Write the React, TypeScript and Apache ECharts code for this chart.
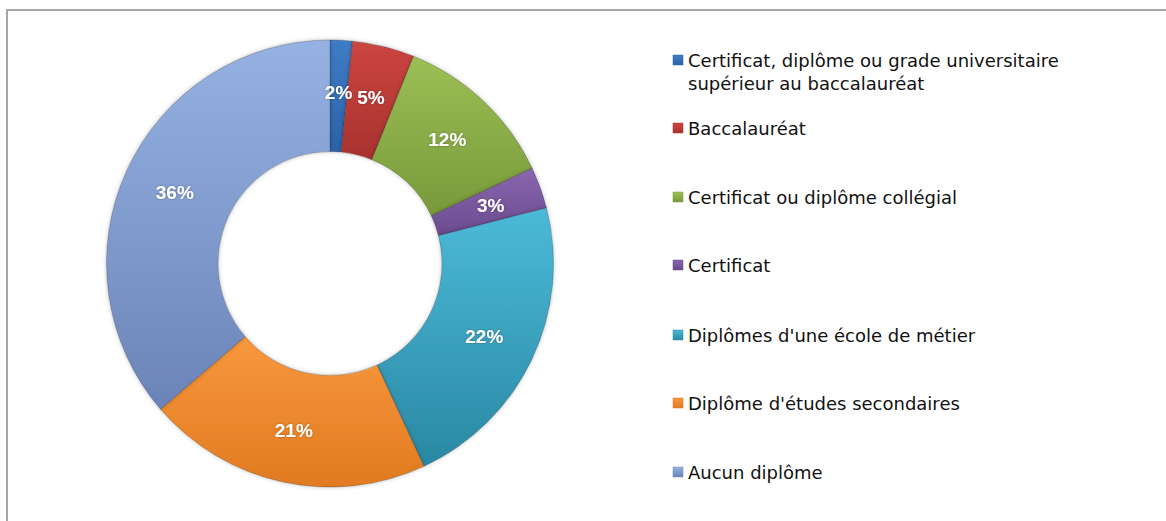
import React, { useEffect, useRef } from "react";
import * as echarts from "echarts";

const categories = [
  "Certificat, diplôme ou grade universitaire\nsupérieur au baccalauréat",
  "Baccalauréat",
  "Certificat ou diplôme collégial",
  "Certificat",
  "Diplômes d'une école de métier",
  "Diplôme d'études secondaires",
  "Aucun diplôme",
];
const values = [1.6, 4.5, 11.9, 3.0, 22.1, 20.6, 36.3];
const topColors = ["#3F7CC6", "#CC4540", "#9CBF55", "#8A66B0", "#4BBAD8", "#F9983E", "#95B2E2"];
const bottomColors = ["#2C62A8", "#A8322E", "#78993A", "#6A4B8E", "#2A88A3", "#E07A20", "#6B84B8"];
const legendTops = [60, 128, 197, 265, 335, 403, 472];

const grad = (i: number) =>
  new echarts.graphic.LinearGradient(0, 0, 0, 1, [
    { offset: 0, color: topColors[i] },
    { offset: 1, color: bottomColors[i] },
  ]);

export default function App() {
  const ref = useRef<HTMLDivElement>(null);
  useEffect(() => {
    if (!ref.current) return;
    const chart = echarts.init(ref.current, undefined, { renderer: "svg" });
    const legendFont = "DejaVu Sans";
    const graphics: any[] = [
      {
        type: "rect",
        shape: { x: 7, y: 10, width: 1170, height: 530 },
        style: { fill: "none", stroke: "#A6A6A6", lineWidth: 2 },
        silent: true,
      },
    ];
    categories.forEach((c, i) => {
      const lines = c.split("\n");
      graphics.push({
        type: "rect",
        shape: { x: 673, y: legendTops[i] - 5, width: 10, height: 10 },
        style: { fill: grad(i), stroke: bottomColors[i], lineWidth: 0.5 },
      });
      lines.forEach((ln, j) => {
        graphics.push({
          type: "text",
          x: 688,
          y: legendTops[i] + j * 23,
          style: {
            text: ln,
            fill: "#111111",
            font: `18px "${legendFont}"`,
            verticalAlign: "middle",
          },
        });
      });
    });
    chart.setOption({
      animation: false,
      backgroundColor: "#ffffff",
      graphic: graphics,
      series: [
        {
          type: "pie",
          center: [330, 263.5],
          radius: [112, 223.5],
          startAngle: 90,
          clockwise: true,
          avoidLabelOverlap: false,
          itemStyle: {
            borderColor: "rgba(40,40,40,0.25)",
            borderWidth: 1,
            shadowBlur: 4,
            shadowColor: "rgba(0,0,0,0.25)",
          },
          label: {
            show: true,
            position: "inside",
            color: "#ffffff",
            fontWeight: "bold",
            fontSize: 19,
            fontFamily: "Liberation Sans",
            textShadowColor: "rgba(0,0,0,0.35)",
            textShadowBlur: 2,
            formatter: (p: any) => Math.round(p.value) + "%",
          },
          labelLine: { show: false },
          emphasis: { disabled: true },
          data: categories.map((c, i) => ({
            name: c,
            value: values[i],
            itemStyle: { color: grad(i) },
          })),
        },
      ],
    });
    return () => chart.dispose();
  }, []);
  return (
    <div
      ref={ref}
      style={{ position: "fixed", left: 0, top: 0, width: 1166, height: 521 }}
    />
  );
}
